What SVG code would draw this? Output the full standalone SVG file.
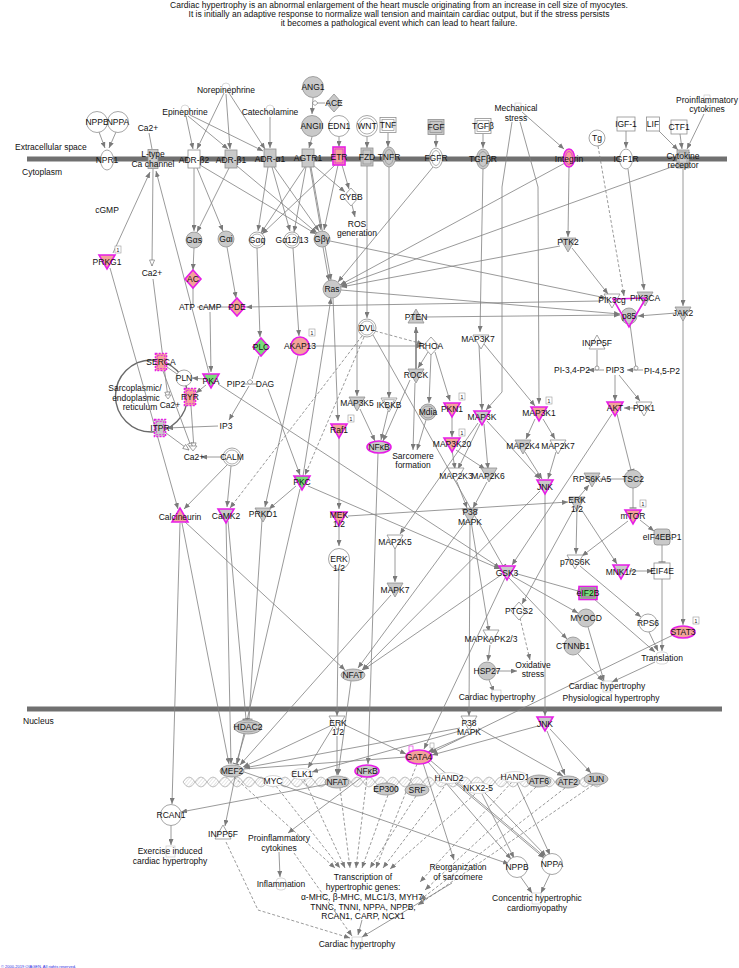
<svg xmlns="http://www.w3.org/2000/svg" width="739" height="968" viewBox="0 0 739 968">
<style>
text{font-family:"Liberation Sans",Arial,sans-serif;font-size:8.5px;fill:#111;text-anchor:middle;dominant-baseline:central}
.lft{text-anchor:start}
.g{fill:#c9c9c9;stroke:#8f8f8f;stroke-width:.8}
.w{fill:#fff;stroke:#8f8f8f;stroke-width:.8}
.wl{fill:#fff;stroke:#c8c8c8;stroke-width:.7}
.up{fill:#f3a39b;stroke:#e61ee6;stroke-width:1.6}
.dn{fill:#78dc78;stroke:#e61ee6;stroke-width:1.6}
.mg{fill:#c9c9c9;stroke:#e61ee6;stroke-width:1.6}
.dsh{stroke-dasharray:2 1.2}
.in{fill:none;stroke:#8f8f8f;stroke-width:.7}
.inm{fill:none;stroke:#e61ee6;stroke-width:.8}
.one{fill:#fff;stroke:#999;stroke-width:.6}
.onet{font-size:5px}
.bar{fill:#707070}
#edges path{fill:none;stroke:#808080;stroke-width:.8}
#edges path.d{stroke-dasharray:3 2}
#edges path.k{stroke-width:1.6}
</style>
<defs>
<marker id="a" viewBox="0 0 6 5" refX="6" refY="2.5" markerWidth="6" markerHeight="5" orient="auto" markerUnits="userSpaceOnUse"><path d="M0,0L6,2.5L0,5z" fill="#7a7a7a"/></marker>
<marker id="h" viewBox="-1 -1 8 7" refX="6" refY="2.5" markerWidth="8" markerHeight="7" orient="auto" markerUnits="userSpaceOnUse"><path d="M0,0L6,2.5L0,5z" fill="#fff" stroke="#7a7a7a" stroke-width=".7"/></marker>
<marker id="b" viewBox="-1 -4 2 8" refX="0" refY="0" markerWidth="2" markerHeight="8" orient="auto" markerUnits="userSpaceOnUse"><path d="M0,-3.5V3.5" stroke="#7a7a7a" stroke-width="1.2"/></marker>
<marker id="o" viewBox="-3 -3 6 6" refX="0" refY="0" markerWidth="6" markerHeight="6" orient="auto" markerUnits="userSpaceOnUse"><circle r="2" fill="#fff" stroke="#7a7a7a" stroke-width=".7"/></marker>
<pattern id="hatch" width="2.6" height="2.6" patternUnits="userSpaceOnUse" patternTransform="rotate(40)"><line x1="0" y1="0" x2="0" y2="2.6" stroke="#bdbdbd" stroke-width=".7"/></pattern>
<polygon id="kin" points="-8,-6 8,-6 0,8"/>
<polygon id="kin2" points="-5.5,-4.3 5.5,-4.3 0,5.3"/>
<polygon id="phos" points="-8,6 8,6 0,-8"/>
<polygon id="enz" points="0,-9 8,0 0,9 -8,0"/>
<ellipse id="tr" rx="12" ry="6"/>
<circle id="c6" r="6"/>
<circle id="c7" r="7"/>
<circle id="c8" r="8"/>
<circle id="c9" r="9"/>
<circle id="c10" r="10.5"/>
<rect id="rc" x="-6" y="-9" width="12" height="18"/>
<rect id="rc2" x="-4" y="-7" width="8" height="14"/>
<rect id="sq" x="-8" y="-7.5" width="16" height="15"/>
<rect id="sq2" x="-6" y="-5.5" width="12" height="11"/>
<ellipse id="mem" rx="6.5" ry="10"/>
<ellipse id="mem2" rx="4.3" ry="7.5"/>
<rect id="er" x="-5.5" y="-8.5" width="11" height="17"/>
<rect id="er2" x="-3.5" y="-6.5" width="7" height="13"/>
</defs>

<g id="title">
<text x="399" y="4.5">Cardiac hypertrophy is an abnormal enlargement of the heart muscle originating from an increase in cell size of myocytes.</text>
<text x="399" y="13.8">It is initially an adaptive response to normalize wall tension and maintain cardiac output, but if the stress persists</text>
<text x="399" y="23.3">it becomes a pathological event which can lead to heart failure.</text>
</g>

<g id="compartments">
<rect class="bar" x="27" y="156.5" width="700" height="5"/>
<rect class="bar" x="27" y="706.5" width="695" height="5"/>
<text class="lft" x="15" y="147">Extracellular space</text>
<text class="lft" x="22" y="172">Cytoplasm</text>
<text class="lft" x="23" y="721">Nucleus</text>
<circle cx="151.5" cy="396" r="36" fill="none" stroke="#6a6a6a" stroke-width="1.4"/>
<text x="135" y="388">Sarcoplasmic/</text>
<text x="136" y="398">endoplasmic</text>
<text x="140" y="407">reticulum</text>
</g>

<g id="dna" stroke="#b0b0b0" stroke-width=".8">
<path fill="url(#hatch)" d="M183,782 Q189,772 195,782 T207,782 T219,782 T231,782 T243,782 T255,782 T267,782 T279,782 T291,782 T303,782 T315,782 T327,782 T339,782 T351,782 T363,782 T375,782 T387,782 T399,782 T411,782 T423,782 T435,782 T447,782 T459,782 T471,782 T483,782 T495,782 T507,782 T519,782 T531,782 T543,782 T555,782 T567,782 T579,782 T591,782 T603,782 Q597,792 591,782 T579,782 T567,782 T555,782 T543,782 T531,782 T519,782 T507,782 T495,782 T483,782 T471,782 T459,782 T447,782 T435,782 T423,782 T411,782 T399,782 T387,782 T375,782 T363,782 T351,782 T339,782 T327,782 T315,782 T303,782 T291,782 T279,782 T267,782 T255,782 T243,782 T231,782 T219,782 T207,782 T195,782 T183,782Z"/>
</g>

<g id="edges">
<path d="M99,132L105,148" marker-end="url(#a)"/>
<path d="M116,132L109,148" marker-end="url(#a)"/>
<path d="M149,133L152,149"/>
<path d="M186,116L193,149" marker-end="url(#a)"/>
<path d="M188,116L228,149" marker-end="url(#a)"/>
<path d="M190,115L263,151" marker-end="url(#a)"/>
<path d="M224,93L197,149" marker-end="url(#a)"/>
<path d="M226,94L230,149" marker-end="url(#a)"/>
<path d="M229,93L265,149" marker-end="url(#a)"/>
<path d="M270,117L270,148" marker-end="url(#a)"/>
<path d="M313,98L312,114" marker-end="url(#a)"/>
<path d="M325,103L318,103"/>
<path d="M312,137L309,148" marker-end="url(#a)"/>
<path d="M339,137L339,147" marker-end="url(#a)"/>
<path d="M367,137L367,148" marker-end="url(#a)"/>
<path d="M388,133L388,147" marker-end="url(#a)"/>
<path d="M436,135L436,147" marker-end="url(#a)"/>
<path d="M483,134L483,148" marker-end="url(#a)"/>
<path d="M522,112L564,149" marker-end="url(#a)"/>
<path d="M512,122L502,187L502,392L486,410" marker-end="url(#a)"/>
<path d="M520,122L538,187L539,404" marker-end="url(#a)"/>
<path d="M626,131L626,148" marker-end="url(#a)"/>
<path d="M659,131L678,150" marker-end="url(#a)"/>
<path d="M680,134L682,149" marker-end="url(#a)"/>
<path d="M704,114L687,149" marker-end="url(#a)"/>
<path class="d" d="M598,146L624,296" marker-end="url(#a)"/>
<path d="M628,169L644,290" marker-end="url(#a)"/>
<path d="M569,167L568,237" marker-end="url(#a)"/>
<path d="M565,163L340,285" marker-end="url(#a)"/>
<path d="M677,165L341,286" marker-end="url(#a)"/>
<path d="M683,169L683,306" marker-end="url(#a)"/>
<path d="M683,320L683,625" marker-end="url(#a)"/>
<path d="M676,313L638,316" marker-end="url(#a)"/>
<path d="M572,248L608,294" marker-end="url(#a)"/>
<path d="M560,246L341,287" marker-end="url(#a)"/>
<path d="M367,166L367,318" marker-end="url(#a)"/>
<path d="M389,167L389,398" marker-end="url(#a)"/>
<path d="M433,167L338,282" marker-end="url(#a)"/>
<path d="M483,168L480,332" marker-end="url(#a)"/>
<path d="M352,205L355,217" marker-end="url(#a)"/>
<path d="M357,238L357,396" marker-end="url(#a)"/>
<path d="M200,165L316,234" marker-end="url(#a)"/>
<path d="M237,166L317,233" marker-end="url(#a)"/>
<path d="M194,168L194,231" marker-end="url(#a)"/>
<path d="M197,168L223,231" marker-end="url(#a)"/>
<path d="M229,168L197,232" marker-end="url(#a)"/>
<path d="M268,167L258,231" marker-end="url(#a)"/>
<path d="M272,167L290,231" marker-end="url(#a)"/>
<path d="M274,167L319,231" marker-end="url(#a)"/>
<path d="M305,167L261,233" marker-end="url(#a)"/>
<path d="M306,167L294,232" marker-end="url(#a)"/>
<path d="M310,167L321,230" marker-end="url(#a)"/>
<path d="M313,165L345,192" marker-end="url(#a)"/>
<path d="M335,165L262,234" marker-end="url(#a)"/>
<path d="M338,165L324,230" marker-end="url(#a)"/>
<path d="M342,165L349,189" marker-end="url(#a)"/>
<path d="M311,167L331,280" marker-end="url(#a)"/>
<path d="M194,248L193,270" marker-end="url(#a)"/>
<path d="M227,247L236,298" marker-end="url(#a)"/>
<path d="M193,288L193,305"/>
<path d="M197,307L229,307"/>
<path d="M210,312L211,372" marker-end="url(#a)"/>
<path d="M257,248L260,337" marker-end="url(#a)"/>
<path d="M293,248L299,336" marker-end="url(#a)"/>
<path d="M323,247L329,281" marker-end="url(#a)"/>
<path d="M330,241L606,298" marker-end="url(#a)"/>
<path d="M341,290L620,314" marker-end="url(#a)"/>
<path d="M601,301L246,307" marker-end="url(#a)"/>
<path d="M425,317L620,315" marker-end="url(#a)"/>
<path d="M303,476L331,298" marker-end="url(#a)"/>
<path d="M333,298L338,421" marker-end="url(#a)"/>
<path d="M259,356L252,379"/>
<path d="M243,384L257,384"/>
<path d="M249,386L229,420" marker-end="url(#a)"/>
<path d="M268,389L300,475" marker-end="url(#a)"/>
<path d="M218,426L167,428" marker-end="url(#a)"/>
<path d="M204,379L192,378" marker-end="url(#a)"/>
<path d="M206,385L196,393" marker-end="url(#a)"/>
<path d="M209,373L156,171" marker-end="url(#a)"/>
<path d="M218,384L500,568" marker-end="url(#a)"/>
<path d="M177,374L167,367"/>
<path d="M163,371L192,449" marker-end="url(#h)"/>
<path d="M191,406L194,449" marker-end="url(#h)"/>
<path d="M166,433L189,450" marker-end="url(#h)"/>
<path d="M153,279L168,398" marker-end="url(#h)"/>
<path d="M153,169L152,266" marker-end="url(#h)"/>
<path d="M113,253L150,172" marker-end="url(#a)"/>
<path d="M110,268L178,509" marker-end="url(#a)"/>
<path d="M223,457L201,457" marker-end="url(#a)"/>
<path d="M227,465L184,509" marker-end="url(#a)"/>
<path d="M231,466L227,507" marker-end="url(#a)"/>
<path class="d" d="M362,336L230,508" marker-end="url(#a)"/>
<path class="d" d="M364,337L305,475" marker-end="url(#a)"/>
<path class="d" d="M375,331L423,344" marker-end="url(#a)"/>
<path d="M373,335L503,566" marker-end="url(#b)"/>
<path d="M309,346L422,346" marker-end="url(#a)"/>
<path d="M298,355L265,507" marker-end="url(#a)"/>
<path d="M428,352L418,368" marker-end="url(#a)"/>
<path d="M431,355L429,403" marker-end="url(#a)"/>
<path d="M435,352L450,401" marker-end="url(#a)"/>
<path class="k" d="M416,369L416,327" marker-end="url(#a)"/>
<path d="M415,383L413,450" marker-end="url(#a)"/>
<path d="M426,420L417,450" marker-end="url(#a)"/>
<path d="M410,380L383,441" marker-end="url(#a)"/>
<path d="M360,409L375,441" marker-end="url(#a)"/>
<path d="M388,411L381,440" marker-end="url(#a)"/>
<path d="M452,416L452,437" marker-end="url(#a)"/>
<path d="M452,450L455,469" marker-end="url(#a)"/>
<path d="M456,450L485,469" marker-end="url(#a)"/>
<path d="M480,424L458,469" marker-end="url(#a)"/>
<path d="M484,424L488,469" marker-end="url(#a)"/>
<path d="M479,345L482,410" marker-end="url(#a)"/>
<path d="M484,344L535,406" marker-end="url(#a)"/>
<path d="M535,419L526,439" marker-end="url(#a)"/>
<path d="M543,419L555,439" marker-end="url(#a)"/>
<path d="M525,452L542,479" marker-end="url(#a)"/>
<path d="M556,452L548,479" marker-end="url(#a)"/>
<path d="M487,421L540,479" marker-end="url(#a)"/>
<path d="M478,423L400,534" marker-end="url(#a)"/>
<path d="M457,482L467,508" marker-end="url(#a)"/>
<path d="M487,482L473,508" marker-end="url(#a)"/>
<path d="M604,370L588,370" marker-end="url(#a)"/>
<path d="M643,370L627,370" marker-end="url(#a)"/>
<path d="M597,350L597,368" marker-end="url(#o)"/>
<path d="M630,324L636,368" marker-end="url(#o)"/>
<path d="M615,375L615,401" marker-end="url(#a)"/>
<path d="M619,375L640,401" marker-end="url(#a)"/>
<path d="M636,408L624,408" marker-end="url(#a)"/>
<path d="M617,414L631,470" marker-end="url(#b)"/>
<path d="M612,414L512,565" marker-end="url(#a)"/>
<path d="M633,488L633,508" marker-end="url(#b)"/>
<path d="M600,479L624,479"/>
<path d="M579,497L589,485" marker-end="url(#a)"/>
<path d="M577,509L576,554" marker-end="url(#a)"/>
<path d="M581,509L617,564" marker-end="url(#a)"/>
<path d="M574,509L522,604" marker-end="url(#a)"/>
<path d="M348,516L568,502" marker-end="url(#a)"/>
<path d="M640,520L654,531" marker-end="url(#a)"/>
<path d="M628,521L582,556" marker-end="url(#a)"/>
<path d="M662,545L662,562" marker-end="url(#b)"/>
<path d="M629,571L653,571" marker-end="url(#a)"/>
<path d="M662,579L662,651" marker-end="url(#a)"/>
<path d="M580,566L641,617" marker-end="url(#a)"/>
<path d="M649,632L658,651" marker-end="url(#a)"/>
<path d="M594,599L655,652" marker-end="url(#a)"/>
<path d="M514,573L578,591" marker-end="url(#b)"/>
<path d="M512,576L578,613" marker-end="url(#a)"/>
<path d="M509,578L567,639" marker-end="url(#a)"/>
<path d="M501,575L363,670" marker-end="url(#a)"/>
<path d="M505,578L424,749" marker-end="url(#a)"/>
<path d="M540,491L362,670" marker-end="url(#a)"/>
<path d="M545,493L545,716" marker-end="url(#a)"/>
<path d="M467,520L358,668" marker-end="url(#a)"/>
<path d="M471,521L489,632" marker-end="url(#a)"/>
<path d="M470,524L469,716" marker-end="url(#a)"/>
<path d="M490,645L488,661" marker-end="url(#a)"/>
<path d="M489,680L494,692" marker-end="url(#a)"/>
<path d="M496,671L517,671" marker-end="url(#a)"/>
<path class="d" d="M520,618L530,660" marker-end="url(#a)"/>
<path d="M588,627L604,681" marker-end="url(#a)"/>
<path d="M578,654L603,681" marker-end="url(#a)"/>
<path d="M655,662L612,682" marker-end="url(#a)"/>
<path d="M673,635L431,753" marker-end="url(#a)"/>
<path d="M339,524L339,546" marker-end="url(#a)"/>
<path d="M339,436L339,509" marker-end="url(#a)"/>
<path d="M339,569L337,716" marker-end="url(#a)"/>
<path d="M296,486L269,509" marker-end="url(#a)"/>
<path d="M300,489L237,764" marker-end="url(#a)"/>
<path d="M262,520L249,719" marker-end="url(#b)"/>
<path d="M308,486L500,569" marker-end="url(#a)"/>
<path d="M395,546L395,582" marker-end="url(#a)"/>
<path d="M391,595L240,765" marker-end="url(#a)"/>
<path d="M184,521L345,670" marker-end="url(#a)"/>
<path d="M180,523L172,804" marker-end="url(#a)"/>
<path d="M182,523L229,764" marker-end="url(#a)"/>
<path d="M226,521L231,764" marker-end="url(#a)"/>
<path d="M228,521L246,719" marker-end="url(#b)"/>
<path d="M351,681L338,775" marker-end="url(#a)"/>
<path d="M378,453L368,764" marker-end="url(#a)"/>
<path d="M245,734L236,764" marker-end="url(#b)"/>
<path d="M333,727L308,768" marker-end="url(#a)"/>
<path d="M337,736L337,775" marker-end="url(#a)"/>
<path d="M345,725L406,754" marker-end="url(#a)"/>
<path d="M330,726L243,767" marker-end="url(#a)"/>
<path d="M465,736L428,752" marker-end="url(#a)"/>
<path d="M460,728L244,768" marker-end="url(#a)"/>
<path d="M460,731L312,772" marker-end="url(#a)"/>
<path d="M478,728L563,776" marker-end="url(#a)"/>
<path d="M547,731L565,775" marker-end="url(#a)"/>
<path d="M550,729L591,773" marker-end="url(#a)"/>
<path d="M538,726L432,755" marker-end="url(#a)"/>
<path d="M235,777L225,826" marker-end="url(#a)"/>
<path d="M328,784L181,812" marker-end="url(#a)"/>
<path d="M171,825L171,845" marker-end="url(#a)"/>
<path class="d" d="M226,842L258,910L350,938" marker-end="url(#a)"/>
<path d="M279,852L280,877" marker-end="url(#a)"/>
<path class="d" d="M294,853L352,936" marker-end="url(#a)"/>
<path d="M362,777L288,833" marker-end="url(#a)"/>
<path d="M423,763L454,860" marker-end="url(#a)"/>
<path d="M452,883L362,937" marker-end="url(#a)"/>
<path d="M244,772L509,864" marker-end="url(#a)"/>
<path d="M428,762L511,859" marker-end="url(#a)"/>
<path d="M430,760L545,857" marker-end="url(#a)"/>
<path d="M482,794L514,858" marker-end="url(#a)"/>
<path d="M485,793L546,856" marker-end="url(#a)"/>
<path d="M455,783L544,858" marker-end="url(#a)"/>
<path d="M517,783L550,855" marker-end="url(#a)"/>
<path d="M520,876L532,893" marker-end="url(#a)"/>
<path d="M550,874L541,893" marker-end="url(#a)"/>
<path d="M244,769L406,757"/>
<path class="d" d="M234,777L335,868" marker-end="url(#a)"/>
<path class="d" d="M276,786L340,868" marker-end="url(#a)"/>
<path class="d" d="M304,779L345,868" marker-end="url(#a)"/>
<path class="d" d="M340,788L350,868" marker-end="url(#a)"/>
<path class="d" d="M367,777L356,868" marker-end="url(#a)"/>
<path class="d" d="M388,795L362,868" marker-end="url(#a)"/>
<path class="d" d="M416,796L370,868" marker-end="url(#a)"/>
<path class="d" d="M417,764L376,868" marker-end="url(#a)"/>
<path class="d" d="M447,783L383,868" marker-end="url(#a)"/>
<path class="d" d="M475,794L390,869" marker-end="url(#a)"/>
<path class="d" d="M512,782L420,882" marker-end="url(#a)"/>
<path class="d" d="M536,787L425,890" marker-end="url(#a)"/>
<path class="d" d="M565,788L420,900" marker-end="url(#a)"/>
<path class="d" d="M593,785L418,905" marker-end="url(#a)"/>
<path d="M362,920L358,935" marker-end="url(#a)"/>
</g>

<g id="nodes">
<g id="n-NPPB"><use href="#c10" class="w" x="97" y="122"/><text x="97" y="122">NPPB</text></g>
<g id="n-NPPA"><use href="#c10" class="w" x="118" y="122"/><text x="118" y="122">NPPA</text></g>
<g id="n-Ca-out"><text x="148" y="128">Ca2+</text></g>
<g id="n-Epinephrine"><circle class="wl" cx="185" cy="109" r="4"/><text x="185" y="112">Epinephrine</text></g>
<g id="n-Norepinephrine"><circle class="wl" cx="226" cy="87" r="4"/><text x="226" y="90">Norepinephrine</text></g>
<g id="n-Catecholamine"><circle class="wl" cx="270" cy="109" r="4"/><text x="270" y="112">Catecholamine</text></g>
<g id="n-ANG1"><use href="#c10" class="g" x="313" y="87"/><text x="313" y="87">ANG1</text></g>
<g id="n-ACE"><use href="#enz" class="g" x="334" y="103"/><path d="M312,103L315,100.5L318,103L315,105.5z" fill="#fff" stroke="#7a7a7a" stroke-width=".7"/><text x="334" y="103">ACE</text></g>
<g id="n-ANGII"><use href="#c10" class="g" x="312" y="126"/><text x="312" y="126">ANGII</text></g>
<g id="n-EDN1"><use href="#c10" class="w" x="339" y="126"/><text x="339" y="126">EDN1</text></g>
<g id="n-WNT"><use href="#c10" class="w" x="367" y="126"/><use href="#c8" class="in" x="367" y="126"/><text x="367" y="126">WNT</text></g>
<g id="n-TNF"><use href="#sq" class="w" x="388" y="125"/><use href="#sq2" class="in" x="388" y="125"/><text x="388" y="125">TNF</text></g>
<g id="n-FGF"><use href="#sq" class="g" x="436" y="127"/><use href="#sq2" class="in" x="436" y="127"/><text x="436" y="127">FGF</text></g>
<g id="n-TGFb"><use href="#sq" class="w" x="483" y="126"/><use href="#sq2" class="in" x="483" y="126"/><text x="483" y="126">TGFβ</text></g>
<g id="n-MechStress"><rect class="wl" x="515" y="103" width="6" height="8"/><text x="516" y="108">Mechanical</text><text x="516" y="118">stress</text></g>
<g id="n-Tg"><use href="#c8" class="w" x="597" y="138"/><text x="597" y="138">Tg</text></g>
<g id="n-IGF1"><rect class="w" x="617" y="117" width="18" height="14"/><text x="626" y="124">IGF-1</text></g>
<g id="n-LIF"><rect class="w" x="646.5" y="117" width="13" height="14"/><text x="653" y="124">LIF</text></g>
<g id="n-CTF1"><rect class="w" x="671" y="120" width="16" height="14"/><text x="679" y="127">CTF1</text></g>
<g id="n-ProinflamOut"><rect class="wl" x="704" y="95" width="6" height="8"/><text x="707" y="100">Proinflammatory</text><text x="707" y="109">cytokines</text></g>

<g id="n-NPR1"><use href="#mem" class="w" x="107" y="160"/><text x="107" y="160">NPR1</text></g>
<g id="n-Ltype"><rect class="g" x="148" y="149.5" width="10" height="19"/><text x="153" y="154">L-type</text><text x="153" y="164">Ca channel</text></g>
<g id="n-ADRB2"><use href="#rc" class="w" x="194" y="159"/><text x="194" y="160">ADR-β2</text></g>
<g id="n-ADRB1"><use href="#rc" class="g" x="231" y="159"/><text x="231" y="160">ADR-β1</text></g>
<g id="n-ADRA1"><use href="#rc" class="g" x="270" y="158"/><text x="270" y="159">ADR-α1</text></g>
<g id="n-AGTR1"><use href="#rc" class="g" x="308" y="158"/><text x="308" y="158">AGTR1</text></g>
<g id="n-ETR"><use href="#rc" class="up" x="339" y="156"/><use href="#rc2" class="inm" x="339" y="156"/><text x="339" y="157">ETR</text></g>
<g id="n-FZD"><use href="#rc" class="g" x="367" y="157"/><use href="#rc2" class="in" x="367" y="157"/><text x="367" y="157">FZD</text></g>
<g id="n-TNFR"><use href="#mem" class="g" x="389" y="157"/><use href="#mem2" class="in" x="389" y="157"/><text x="389" y="157">TNFR</text></g>
<g id="n-FGFR"><use href="#mem" class="w" x="436" y="158"/><use href="#mem2" class="in" x="436" y="158"/><text x="436" y="158">FGFR</text></g>
<g id="n-TGFbR"><use href="#mem" class="g" x="483" y="159"/><use href="#mem2" class="in" x="483" y="159"/><text x="483" y="159">TGFβR</text></g>
<g id="n-Integrin"><ellipse class="up" cx="569" cy="158" rx="5.5" ry="9"/><ellipse class="inm" cx="569" cy="158" rx="3.5" ry="6.5"/><text x="569" y="159">Integrin</text></g>
<g id="n-IGF1R"><use href="#mem" class="w" x="626" y="159"/><text x="626" y="159">IGF1R</text></g>
<g id="n-CytokineR"><use href="#rc" class="g" x="683" y="159"/><use href="#rc2" class="in" x="683" y="159"/><text x="683" y="156">Cytokine</text><text x="683" y="165">receptor</text></g>

<g id="n-cGMP"><text x="107" y="210">cGMP</text></g>
<g id="n-PRKG1"><use href="#kin" class="up" x="107" y="261"/><text x="107" y="262">PRKG1</text><rect class="one" x="115" y="246" width="6" height="7"/><text class="onet" x="118" y="249.5">1</text></g>
<g id="n-Gas"><use href="#c8" class="g" x="194" y="240"/><text x="194" y="240">Gαs</text></g>
<g id="n-Gai"><use href="#c8" class="g" x="226" y="239"/><text x="226" y="239">Gαi</text></g>
<g id="n-Gaq"><use href="#c8" class="w" x="257" y="240"/><use href="#c6" class="in" x="257" y="240"/><text x="257" y="240">Gαq</text></g>
<g id="n-Ga1213"><use href="#c8" class="w" x="292" y="240"/><use href="#c6" class="in" x="292" y="240"/><text x="292" y="240">Gα12/13</text></g>
<g id="n-Gbg"><use href="#c8" class="g" x="322" y="239"/><text x="322" y="239">Gβγ</text></g>
<g id="n-CYBB"><use href="#enz" class="w" x="351" y="197"/><text x="351" y="197">CYBB</text></g>
<g id="n-ROS"><text x="357" y="224">ROS</text><text x="357" y="233">generation</text></g>
<g id="n-PTK2"><use href="#kin" class="g" x="568" y="244"/><text x="568" y="242">PTK2</text></g>
<g id="n-Ca-cyt"><text x="152" y="273">Ca2+</text></g>
<g id="n-AC"><use href="#enz" class="up" x="193" y="279"/><text x="193" y="279">AC</text></g>
<g id="n-ATP"><text x="187" y="307">ATP</text></g>
<g id="n-cAMP"><text x="210" y="307">cAMP</text></g>
<g id="n-PDE"><use href="#enz" class="up" x="237" y="307"/><text x="237" y="307">PDE</text></g>
<g id="n-Ras"><use href="#c9" class="g" x="332" y="289"/><text x="332" y="289">Ras</text></g>
<g id="n-PI3K">
<use href="#kin" class="w" x="612" y="300"/><use href="#kin" class="g" x="645" y="298"/><use href="#c8" class="g" x="629" y="316"/>
<polygon points="613,299 646,298 629,327" fill="none" stroke="#e61ee6" stroke-width="1.6"/>
<text x="612" y="300">PIK3cg</text><text x="645" y="298">PIK3CA</text><text x="629" y="316">p85</text></g>
<g id="n-JAK2"><use href="#kin" class="g" x="683" y="313"/><text x="683" y="313">JAK2</text></g>
<g id="n-PTEN"><use href="#phos" class="g" x="416" y="317"/><text x="416" y="317">PTEN</text></g>
<g id="n-DVL"><use href="#c9" class="w" x="367" y="328"/><use href="#c7" class="in" x="367" y="328"/><text x="367" y="328">DVL</text></g>
<g id="n-MAP3K7"><use href="#kin" class="w" x="481" y="341"/><text x="478" y="339">MAP3K7</text></g>
<g id="n-PLC"><use href="#enz" class="dn" x="261" y="347"/><text x="261" y="347">PLC</text></g>
<g id="n-AKAP13"><use href="#c9" class="up" x="300" y="346"/><text x="300" y="346">AKAP13</text><rect class="one" x="309" y="329" width="6" height="7"/><text class="onet" x="312" y="332.5">1</text></g>
<g id="n-RHOA"><use href="#enz" class="w" x="431" y="346"/><text x="431" y="346">RHOA</text></g>
<g id="n-INPP5F"><use href="#phos" class="w" x="597" y="343"/><text x="597" y="343">INPP5F</text></g>
<g id="n-PI34P2"><text x="572" y="370">PI-3,4-P2</text></g>
<g id="n-PIP3"><text x="615" y="370">PIP3</text></g>
<g id="n-PI45P2"><text x="662" y="371">PI-4,5-P2</text></g>
<g id="n-SERCA"><use href="#er" class="up dsh" x="161" y="362"/><use href="#er2" class="inm dsh" x="161" y="362"/><text x="161" y="362">SERCA</text></g>
<g id="n-PLN"><use href="#c8" class="w" x="184" y="378"/><text x="184" y="378">PLN</text></g>
<g id="n-PKA"><use href="#kin" class="dn" x="211" y="380"/><text x="211" y="381">PKA</text></g>
<g id="n-PIP2"><text x="236" y="384">PIP2</text></g>
<g id="n-PIP2cleave"><path d="M247,382L250,379.5L253,382L250,384.5z" fill="#fff" stroke="#7a7a7a" stroke-width=".7"/></g>
<g id="n-DAG"><text x="265" y="384">DAG</text></g>
<g id="n-ROCK"><use href="#kin" class="g" x="416" y="375"/><text x="416" y="375">ROCK</text></g>
<g id="n-RYR"><use href="#er" class="up dsh" x="190" y="397"/><use href="#er2" class="inm dsh" x="190" y="397"/><text x="190" y="397">RYR</text></g>
<g id="n-Ca-SR"><path d="M165,395L171,395L168,399z" class="w"/><text x="170" y="405">Ca2+</text></g>
<g id="n-MAP3K5"><use href="#kin" class="g" x="357" y="403"/><text x="357" y="403">MAP3K5</text></g>
<g id="n-IKBKB"><use href="#kin" class="w" x="389" y="404"/><use href="#kin2" class="in" x="389" y="404"/><text x="389" y="405">IKBKB</text></g>
<g id="n-Mdia"><use href="#c8" class="g" x="428" y="412"/><use href="#c6" class="in" x="428" y="412"/><text x="428" y="412">Mdia</text></g>
<g id="n-PKN1"><use href="#kin" class="up" x="452" y="409"/><text x="452" y="409">PKN1</text><rect class="one" x="459" y="393" width="6" height="7"/><text class="onet" x="462" y="396.5">1</text></g>
<g id="n-MAP3K"><use href="#kin" class="mg" x="482" y="417"/><text x="482" y="417">MAP3K</text></g>
<g id="n-MAP3K1"><use href="#kin" class="up" x="539" y="413"/><text x="539" y="413">MAP3K1</text><rect class="one" x="546" y="397" width="6" height="7"/><text class="onet" x="549" y="400.5">1</text></g>
<g id="n-AKT"><use href="#kin" class="up" x="615" y="408"/><text x="615" y="408">AKT</text></g>
<g id="n-PDK1"><use href="#kin" class="w" x="644" y="408"/><text x="644" y="408">PDK1</text></g>
<g id="n-ITPR"><use href="#er" class="mg dsh" x="160" y="428"/><use href="#er2" class="inm dsh" x="160" y="428"/><text x="160" y="428">ITPR</text></g>
<g id="n-IP3"><text x="226" y="426">IP3</text></g>
<g id="n-Raf1"><use href="#kin" class="up" x="339" y="430"/><text x="339" y="430">Raf1</text><rect class="one" x="348" y="415" width="6" height="7"/><text class="onet" x="351" y="418.5">1</text></g>
<g id="n-NFkB-cyt"><use href="#tr" class="mg" x="379" y="447"/><text x="379" y="447">NFκB</text></g>
<g id="n-MAP3K20"><use href="#kin" class="up" x="452" y="444"/><text x="452" y="444">MAP3K20</text><rect class="one" x="459" y="429" width="6" height="7"/><text class="onet" x="462" y="432.5">1</text></g>
<g id="n-MAP2K4"><use href="#kin" class="g" x="523" y="446"/><text x="523" y="446">MAP2K4</text></g>
<g id="n-MAP2K7"><use href="#kin" class="w" x="558" y="446"/><text x="558" y="446">MAP2K7</text></g>
<g id="n-Sarcomere"><text x="413" y="456">Sarcomere</text><text x="413" y="465">formation</text></g>
<g id="n-Ca-low"><path d="M189,446L197,446L193,451z" class="w"/><text x="194" y="457">Ca2+</text></g>
<g id="n-CALM"><use href="#c9" class="w" x="232" y="457"/><use href="#c7" class="in" x="232" y="457"/><text x="232" y="457">CALM</text></g>
<g id="n-MAP2K3"><use href="#kin" class="w" x="456" y="474"/><text x="456" y="476">MAP2K3</text></g>
<g id="n-MAP2K6"><use href="#kin" class="g" x="489" y="474"/><text x="488" y="476">MAP2K6</text></g>
<g id="n-PKC"><use href="#kin" class="dn" x="302" y="482"/><text x="302" y="482">PKC</text></g>
<g id="n-RPS6KA5"><use href="#kin" class="g" x="592" y="479"/><text x="592" y="479">RPS6KA5</text></g>
<g id="n-TSC2"><use href="#c9" class="g" x="633" y="479"/><text x="633" y="479">TSC2</text></g>
<g id="n-JNK"><use href="#kin" class="mg" x="545" y="486"/><text x="545" y="487">JNK</text></g>
<g id="n-ERK12-r"><use href="#kin" class="g" x="577" y="503"/><text x="577" y="500">ERK</text><text x="577" y="509">1/2</text></g>
<g id="n-P38"><use href="#kin" class="g" x="470" y="515"/><text x="470" y="512">P38</text><text x="470" y="522">MAPK</text></g>
<g id="n-PRKD1"><use href="#kin" class="g" x="263" y="514"/><text x="263" y="514">PRKD1</text></g>
<g id="n-MEK12"><use href="#kin" class="up" x="339" y="518"/><text x="339" y="515">MEK</text><text x="339" y="524">1/2</text></g>
<g id="n-Calcineurin"><use href="#phos" class="up" x="180" y="516"/><text x="180" y="517">Calcineurin</text></g>
<g id="n-CaMK2"><use href="#kin" class="mg" x="226" y="515"/><text x="226" y="516">CaMK2</text></g>
<g id="n-mTOR"><use href="#kin" class="up" x="633" y="516"/><text x="633" y="516">mTOR</text><rect class="one" x="640" y="500" width="6" height="7"/><text class="onet" x="643" y="503.5">1</text></g>
<g id="n-eIF4EBP1"><rect class="g" x="654" y="529" width="16" height="16" rx="3"/><text x="662" y="537">eIF4EBP1</text></g>
<g id="n-MAP2K5"><use href="#kin" class="w" x="395" y="541"/><text x="395" y="542">MAP2K5</text></g>
<g id="n-ERK12-l"><use href="#c10" class="w" x="339" y="559"/><text x="339" y="559">ERK</text><text x="339" y="568">1/2</text></g>
<g id="n-p70S6K"><use href="#kin" class="w" x="575" y="561"/><text x="575" y="562">p70S6K</text></g>
<g id="n-MNK12"><use href="#kin" class="mg" x="621" y="571"/><text x="621" y="572">MNK1/2</text></g>
<g id="n-EIF4E"><rect class="w" x="654" y="563" width="16" height="16"/><text x="662" y="571">EIF4E</text></g>
<g id="n-GSK3"><use href="#kin" class="mg" x="507" y="572"/><text x="507" y="573">GSK3</text></g>
<g id="n-MAPK7"><use href="#kin" class="g" x="395" y="589"/><text x="395" y="590">MAPK7</text></g>
<g id="n-eIF2B"><rect class="dn" x="579" y="586.5" width="18" height="13"/><rect class="inm" x="581.5" y="589" width="13" height="8"/><text x="588" y="593">eIF2B</text></g>
<g id="n-PTGS2"><use href="#enz" class="w" x="519" y="611"/><text x="519" y="611">PTGS2</text></g>
<g id="n-MYOCD"><use href="#c9" class="g" x="586" y="618"/><text x="586" y="618">MYOCD</text></g>
<g id="n-RPS6"><use href="#c9" class="w" x="648" y="623"/><text x="648" y="623">RPS6</text></g>
<g id="n-STAT3"><use href="#tr" class="up" x="683" y="632"/><text x="683" y="632">STAT3</text><rect class="one" x="693" y="617" width="6" height="7"/><text class="onet" x="696" y="620.5">1</text></g>
<g id="n-MAPKAPK23"><use href="#kin" class="w" x="491" y="636"/><text x="491" y="639">MAPKAPK2/3</text></g>
<g id="n-CTNNB1"><use href="#c9" class="g" x="573" y="646"/><text x="573" y="646">CTNNB1</text></g>
<g id="n-Translation"><rect class="wl" x="656" y="652" width="12" height="12" rx="4"/><text x="662" y="658">Translation</text></g>
<g id="n-OxStress"><text x="533" y="665">Oxidative</text><text x="533" y="674">stress</text></g>
<g id="n-HSP27"><use href="#c9" class="g" x="487" y="671"/><text x="487" y="671">HSP27</text></g>
<g id="n-NFAT-cyt"><use href="#tr" class="g" x="353" y="675"/><text x="353" y="675">NFAT</text></g>
<g id="n-CardHyp1"><rect class="wl" x="492" y="690" width="9" height="11"/><text x="497" y="697">Cardiac hypertrophy</text></g>
<g id="n-CardHyp2"><rect class="wl" x="603" y="681" width="9" height="11"/><text x="607" y="686">Cardiac hypertrophy</text><text x="611" y="698">Physiological hypertrophy</text></g>

<g id="n-ERK12-n"><use href="#kin" class="w" x="337" y="722"/><text x="338" y="723">ERK</text><text x="338" y="732">1/2</text></g>
<g id="n-P38-n"><use href="#kin" class="w" x="469" y="722"/><text x="469" y="723">P38</text><text x="469" y="732">MAPK</text></g>
<g id="n-JNK-n"><use href="#kin" class="mg" x="545" y="723"/><text x="545" y="724">JNK</text></g>
<g id="n-HDAC2"><ellipse class="g" cx="248" cy="727" rx="14" ry="7"/><ellipse class="in" cx="248" cy="727" rx="11" ry="4.8"/><text x="248" y="727">HDAC2</text></g>
<g id="n-GATA4"><rect x="409" y="746" width="4" height="5" fill="#fff" stroke="#e61ee6" stroke-width=".6"/><rect x="430" y="743" width="4" height="5" fill="#fff" stroke="#999" stroke-width=".6"/><ellipse class="up" cx="419" cy="757" rx="13" ry="7"/><text x="419" y="757">GATA4</text></g>
<g id="n-MEF2"><use href="#tr" class="g" x="232" y="771"/><text x="232" y="771">MEF2</text></g>
<g id="n-NFkB-n"><use href="#tr" class="mg" x="367" y="771"/><text x="367" y="771">NFκB</text></g>
<g id="n-ELK1"><ellipse class="wl" cx="302" cy="774" rx="11" ry="5.5"/><text x="302" y="774">ELK1</text></g>
<g id="n-MYC"><ellipse class="wl" cx="273" cy="781" rx="10" ry="5.5"/><text x="273" y="781">MYC</text></g>
<g id="n-NFAT-n"><use href="#tr" class="g" x="337" y="782"/><text x="337" y="782">NFAT</text></g>
<g id="n-EP300"><use href="#tr" class="g" x="386" y="789"/><text x="386" y="789">EP300</text></g>
<g id="n-SRF"><use href="#tr" class="g" x="417" y="790"/><text x="417" y="790">SRF</text></g>
<g id="n-HAND2"><ellipse class="wl" cx="449" cy="778" rx="13" ry="5.5"/><text x="449" y="778">HAND2</text></g>
<g id="n-NKX25"><ellipse class="wl" cx="478" cy="788" rx="13" ry="5.5"/><text x="478" y="788">NKX2-5</text></g>
<g id="n-HAND1"><ellipse class="wl" cx="515" cy="777" rx="13" ry="5.5"/><text x="515" y="777">HAND1</text></g>
<g id="n-ATF6"><use href="#tr" class="g" x="539" y="781"/><text x="539" y="781">ATF6</text></g>
<g id="n-ATF2"><use href="#tr" class="g" x="568" y="782"/><text x="568" y="782">ATF2</text></g>
<g id="n-JUN"><use href="#tr" class="g" x="596" y="779"/><text x="596" y="779">JUN</text></g>
<g id="n-RCAN1"><use href="#c10" class="w" x="171" y="815"/><text x="171" y="815">RCAN1</text></g>
<g id="n-INPP5F-n"><use href="#phos" class="w" x="223" y="833"/><text x="223" y="834">INPP5F</text></g>
<g id="n-ProinflamN"><text x="279" y="838">Proinflammatory</text><text x="279" y="848">cytokines</text></g>
<g id="n-Exercise"><rect class="wl" x="166" y="846" width="9" height="11"/><text x="170" y="851">Exercise induced</text><text x="170" y="861">cardiac hypertrophy</text></g>
<g id="n-NPPB-n"><use href="#c10" class="w" x="517" y="867"/><text x="517" y="867">NPPB</text></g>
<g id="n-NPPA-n"><use href="#c10" class="w" x="552" y="864"/><text x="552" y="864">NPPA</text></g>
<g id="n-Reorg"><text x="458" y="867">Reorganization</text><text x="458" y="877">of sarcomere</text></g>
<g id="n-Transcription">
<text x="363" y="877">Transcription of</text>
<text x="363" y="887">hypertrophic genes:</text>
<text x="363" y="897">α-MHC, β-MHC, MLC1/3, MYH7,</text>
<text x="363" y="907">TNNC, TNNI, NPPA, NPPB,</text>
<text x="363" y="916">RCAN1, CARP, NCX1</text></g>
<g id="n-Inflammation"><rect class="wl" x="276" y="878" width="10" height="12" rx="4"/><text x="281" y="884">Inflammation</text></g>
<g id="n-Concentric"><rect class="wl" x="532" y="893" width="9" height="11"/><text x="537" y="898">Concentric hypertrophic</text><text x="537" y="908">cardiomyopathy</text></g>
<g id="n-CardHyp3"><rect class="wl" x="352" y="937" width="10" height="12"/><text x="357" y="944">Cardiac hypertrophy</text></g>
</g>
<text class="lft" x="1" y="966" style="font-size:4px;fill:#2a2ae0">© 2000-2019 QIAGEN. All rights reserved.</text>
</svg>
